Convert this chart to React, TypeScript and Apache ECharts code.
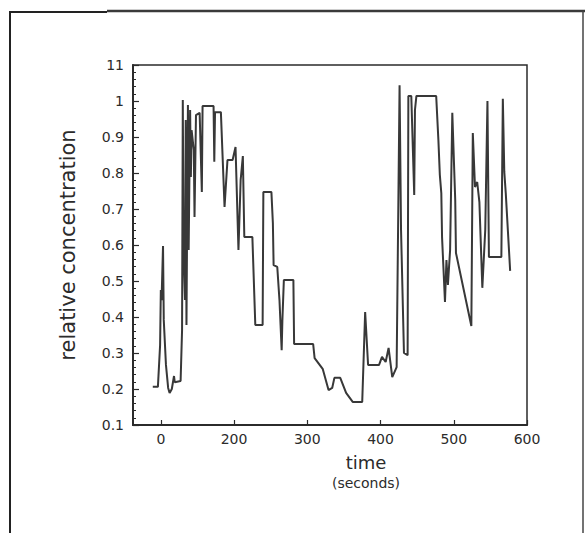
import React, { useEffect, useRef } from "react";
import * as echarts from "echarts";

const TIME = [
  -11, -4, -1, 0, 1, 3, 4, 7, 10, 12,
  15, 18, 19, 27, 29, 30, 31, 33, 34, 35,
  37, 38, 40, 41, 42, 45, 46, 48, 53, 56,
  57, 72, 73, 74, 82, 87, 91, 98, 102, 106,
  109, 112, 114, 125, 129, 139, 140, 151, 153, 154,
  159, 162, 165, 166, 168, 181, 182, 208, 210, 221,
  229, 234, 237, 245, 253, 262, 275, 279, 283, 298,
  302, 307, 311, 316, 322, 326, 328, 332, 337, 338,
  342, 346, 347, 349, 376, 379, 381, 383, 384, 388,
  390, 392, 395, 398, 402, 403, 424, 426, 429, 432,
  435, 439, 443, 446, 448, 465, 467, 469, 471, 477,
];

const CONC = [
  0.206, 0.206, 0.322, 0.475, 0.447, 0.597, 0.392, 0.267, 0.203, 0.189,
  0.2, 0.236, 0.219, 0.222, 0.364, 1.003, 0.586, 0.447, 0.947, 0.378,
  0.989, 0.586, 0.975, 0.789, 0.919, 0.864, 0.678, 0.961, 0.967, 0.747,
  0.986, 0.986, 0.831, 0.969, 0.969, 0.706, 0.836, 0.836, 0.872, 0.586,
  0.781, 0.847, 0.622, 0.622, 0.378, 0.378, 0.747, 0.747, 0.661, 0.544,
  0.539, 0.447, 0.308, 0.392, 0.503, 0.503, 0.325, 0.325, 0.286, 0.256,
  0.197, 0.203, 0.231, 0.231, 0.189, 0.164, 0.164, 0.414, 0.267, 0.267,
  0.289, 0.275, 0.314, 0.233, 0.261, 1.044, 0.642, 0.3, 0.294, 1.014,
  1.014, 0.739, 0.975, 1.014, 1.014, 0.892, 0.794, 0.744, 0.622, 0.442,
  0.558, 0.489, 0.586, 0.967, 0.725, 0.578, 0.375, 0.911, 0.761, 0.775,
  0.719, 0.481, 0.642, 1.0, 0.567, 0.567, 1.006, 0.803, 0.744, 0.528,
];

const X_TICK_VALUES = [0, 100, 200, 300, 400, 500];
const X_TICK_LABELS = ["0", "200", "300", "400", "500", "600"];
const Y_TICK_LABELS = ["0.1", "0.2", "0.3", "0.4", "0.5", "0.6", "0.7", "0.8", "0.9", "1", "11"];
const X_TITLE = "time";
const X_SUBTITLE = "(seconds)";
const Y_TITLE = "relative concentration";

const INK = "#2b2b2b";
const FONT = "DejaVu Sans";

export default function App() {
  const ref = useRef<HTMLDivElement>(null);

  useEffect(() => {
    if (!ref.current) return;
    const chart = echarts.init(ref.current, undefined, { renderer: "svg" });
    const data = TIME.map((t, i) => [t, CONC[i]]);

    chart.setOption({
      animation: false,
      backgroundColor: "#ffffff",
      grid: {
        left: 133,
        right: 59,
        top: 65,
        bottom: 108,
        show: true,
        borderColor: INK,
        borderWidth: 1.5,
        backgroundColor: "transparent",
      },
      xAxis: {
        type: "value",
        min: -38,
        max: 500,
        axisLine: { show: true, onZero: false, lineStyle: { color: INK, width: 2 } },
        axisTick: {
          show: true,
          inside: true,
          length: 5,
          customValues: X_TICK_VALUES,
          lineStyle: { color: INK, width: 1.2 },
        },
        axisLabel: {
          customValues: X_TICK_VALUES,
          margin: 7,
          fontFamily: FONT,
          fontSize: 14,
          color: INK,
          formatter: (v: number) => X_TICK_LABELS[X_TICK_VALUES.indexOf(v)] ?? "",
        },
        splitLine: { show: false },
      },
      yAxis: {
        type: "value",
        min: 0.1,
        max: 1.1,
        interval: 0.1,
        name: Y_TITLE,
        nameLocation: "middle",
        nameGap: 55,
        nameTextStyle: { fontFamily: FONT, fontSize: 21, color: INK },
        axisLine: { show: true, onZero: false, lineStyle: { color: INK, width: 2 } },
        axisTick: { show: true, inside: true, length: 6, lineStyle: { color: INK, width: 1.2 } },
        minorTick: { show: true, splitNumber: 5, length: 3, lineStyle: { color: INK, width: 1 } },
        axisLabel: {
          margin: 9,
          fontFamily: FONT,
          fontSize: 14,
          color: INK,
          formatter: (v: number) => Y_TICK_LABELS[Math.round((v - 0.1) / 0.1)] ?? "",
        },
        splitLine: { show: false },
        minorSplitLine: { show: false },
      },
      series: [
        {
          type: "line",
          data,
          showSymbol: false,
          symbol: "none",
          lineStyle: { color: "#383838", width: 2 },
          silent: true,
        },
      ],
      graphic: [
        { type: "line", shape: { x1: 10, y1: 12, x2: 107, y2: 12 }, style: { stroke: "#222", lineWidth: 2 } },
        { type: "line", shape: { x1: 107, y1: 11, x2: 585, y2: 11 }, style: { stroke: "#3a3a3a", lineWidth: 2.5 } },
        { type: "line", shape: { x1: 10, y1: 11, x2: 10, y2: 533 }, style: { stroke: "#222", lineWidth: 2 } },
        { type: "line", shape: { x1: 583, y1: 11, x2: 583, y2: 533 }, style: { stroke: "#444", lineWidth: 1.5 } },
        {
          type: "text",
          x: 366,
          y: 462,
          style: { text: X_TITLE, fontFamily: FONT, fontSize: 18, fill: INK, align: "center", verticalAlign: "middle" },
        },
        {
          type: "text",
          x: 366,
          y: 483,
          style: { text: X_SUBTITLE, fontFamily: FONT, fontSize: 14, fill: INK, align: "center", verticalAlign: "middle" },
        },
      ],
    });

    return () => chart.dispose();
  }, []);

  return (
    <div
      ref={ref}
      style={{ position: "fixed", left: 0, top: 0, width: 586, height: 533, background: "#fff" }}
    />
  );
}
